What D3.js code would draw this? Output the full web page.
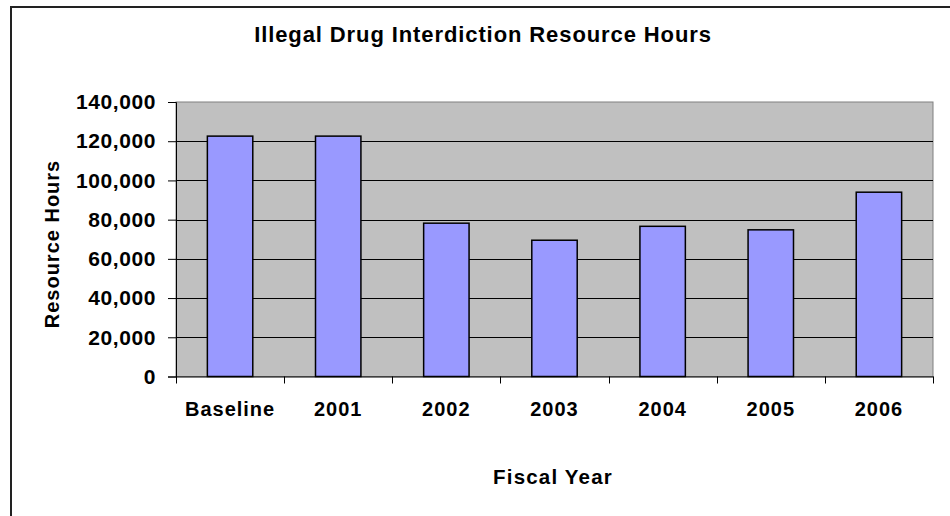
<!DOCTYPE html>
<html><head><meta charset="utf-8">
<script src="https://cdn.jsdelivr.net/npm/d3@7/dist/d3.min.js"></script>
<style>
html,body{margin:0;padding:0;background:#fff;overflow:hidden;}
text{font-family:"Liberation Sans",Arial,sans-serif;font-weight:bold;fill:#000;}
</style></head>
<body>
<svg id="chart" width="950" height="516"></svg>
<script>
const categories = ["Baseline","2001","2002","2003","2004","2005","2006"];
const values = [122600, 122600, 78200, 69500, 76600, 74800, 94000];
const yTicks = [0,20000,40000,60000,80000,100000,120000,140000];
const title = "Illegal Drug Interdiction Resource Hours";
const xTitle = "Fiscal Year";
const yTitle = "Resource Hours";

const svg = d3.select("#chart");
const pL = 176, pR = 933, pT = 102, pB = 376.5;

// chart area border (right and bottom run off the picture)
svg.append("rect").attr("x",11).attr("y",7).attr("width",1000).attr("height",1000)
  .attr("fill","#fff").attr("stroke","#222").attr("stroke-width",2);

const x = d3.scaleBand().domain(categories).range([pL,pR]).padding(0);
const y = d3.scaleLinear().domain([0,140000]).range([pB,pT]);

// plot area
svg.append("rect").attr("x",pL).attr("y",pT).attr("width",pR-pL).attr("height",pB-pT)
  .attr("fill","#C0C0C0").attr("stroke","#808080").attr("stroke-width",1);

// gridlines
svg.append("g").selectAll("line").data(yTicks.filter(d=>d>0 && d<140000)).join("line")
  .attr("x1",pL).attr("x2",pR)
  .attr("y1",d=>Math.round(y(d))+0.5).attr("y2",d=>Math.round(y(d))+0.5)
  .attr("stroke","#000").attr("stroke-width",1);

// bars
const bw = x.bandwidth()*0.42;
svg.append("g").selectAll("rect").data(values).join("rect")
  .attr("x",(d,i)=>x(categories[i])+x.bandwidth()/2-bw/2)
  .attr("y",d=>y(d))
  .attr("width",bw)
  .attr("height",d=>y(0)-y(d))
  .attr("fill","#9999FF").attr("stroke","#000").attr("stroke-width",1.5);

// y axis
const yAxis = d3.axisLeft(y).tickValues(yTicks).tickSize(8).tickPadding(12)
  .tickFormat(d3.format(","));
const gy = svg.append("g").attr("transform",`translate(${pL},0)`).call(yAxis);
gy.attr("font-family",null).attr("font-size",null);
gy.select(".domain").attr("stroke","#000").attr("stroke-width",1);
gy.selectAll(".tick line").attr("stroke","#000");
gy.selectAll(".tick text").style("font-size","21px").style("letter-spacing","0.6px");

// x axis
const xAxis = d3.axisBottom(x).tickSize(0).tickPadding(25);
const gx = svg.append("g").attr("transform",`translate(0,${pB})`).call(xAxis);
gx.attr("font-family",null).attr("font-size",null);
gx.select(".domain").attr("stroke","#000").attr("stroke-width",1);
gx.selectAll(".tick text").style("font-size","20px").style("letter-spacing","1px");
// x tick marks at band boundaries
const bounds = categories.map(c=>x(c)).concat([pR]);
svg.append("g").selectAll("line").data(bounds).join("line")
  .attr("x1",d=>Math.round(d)+0.5).attr("x2",d=>Math.round(d)+0.5)
  .attr("y1",pB).attr("y2",pB+7)
  .attr("stroke","#000").attr("stroke-width",1);

// titles
svg.append("text").attr("x",483).attr("y",42).attr("text-anchor","middle")
  .style("font-size","22px").style("letter-spacing","0.9px").text(title);
svg.append("text").attr("x",553).attr("y",484).attr("text-anchor","middle")
  .style("font-size","20.5px").style("letter-spacing","1.2px").text(xTitle);
svg.append("text").attr("transform","translate(59,244) rotate(-90)").attr("text-anchor","middle")
  .style("font-size","20px").style("letter-spacing","1px").text(yTitle);
</script>
</body></html>
